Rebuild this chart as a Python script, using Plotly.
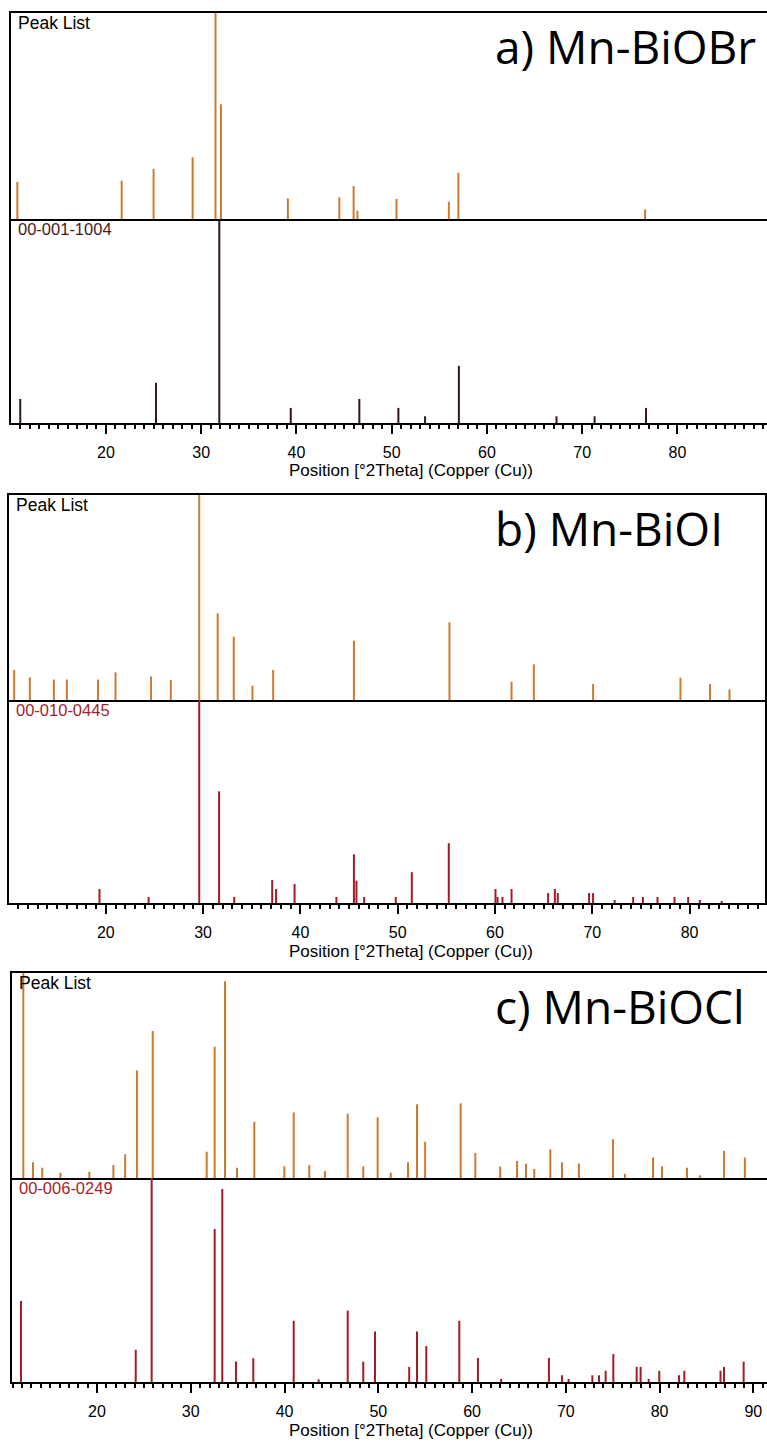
import plotly.graph_objects as go

# ---- Peak data: 2-theta positions (deg) and relative intensities (%) ----
# a) Mn-BiOBr
a_peak_pos = [10.7, 21.65, 25.0, 29.1, 31.5, 32.07, 39.1, 44.5, 46.0, 46.4, 50.5, 56.0, 57.0, 76.6]
a_peak_int = [18, 18.6, 24.3, 30, 100, 55.7, 10, 10.5, 16, 4, 9.7, 8.4, 22.5, 4.7]
a_ref_pos = [11.0, 25.25, 31.9, 39.4, 46.6, 50.7, 53.5, 57.05, 67.3, 71.3, 76.7]
a_ref_int = [11.8, 19.7, 100, 7.4, 11.8, 7.4, 3.3, 28, 3.3, 3.3, 7.4]

# b) Mn-BiOI
b_peak_pos = [10.58, 12.19, 14.66, 16.0, 19.2, 21.0, 24.65, 26.68, 29.6, 31.5, 33.15,
              35.07, 37.2, 45.5, 55.32, 61.7, 63.99, 70.08, 79.06, 82.1, 84.1]
b_peak_int = [14.6, 11, 10, 10, 10, 13.5, 11.5, 9.8, 100, 42.3, 30.9,
              7, 14.6, 28.9, 37.9, 8.9, 17.4, 7.8, 10.9, 7.8, 5.2]
b_ref_pos = [19.35, 24.4, 29.6, 31.64, 33.2, 37.1, 37.5, 39.4, 43.7, 45.5, 45.76, 46.55,
             49.8, 51.45, 55.25, 60.05, 60.26, 60.77, 61.7, 65.46, 66.15, 66.45, 69.67,
             70.08, 72.3, 74.2, 75.2, 76.7, 78.45, 79.85, 81.05, 83.3]
b_ref_int = [6.9, 3, 100, 55, 3, 11.3, 6.9, 9.4, 3, 24, 11, 3,
             3, 15.2, 29.5, 6.9, 3, 3, 6.9, 4.9, 6.9, 4.9, 4.9,
             4.9, 1.5, 3, 3, 3, 3, 3, 1.5, 1]

# c) Mn-BiOCl
c_peak_pos = [12.14, 13.17, 14.16, 16.1, 19.18, 21.75, 23.0, 24.26, 25.94, 31.7, 32.55,
              33.65, 34.93, 36.78, 39.98, 40.98, 42.64, 44.31, 46.74, 48.4, 49.93, 51.33,
              53.17, 54.13, 55.0, 58.79, 60.35, 63.0, 64.8, 65.75, 66.64, 68.35, 69.59,
              71.4, 75.03, 76.3, 79.3, 80.26, 82.93, 84.3, 86.87, 89.1]
c_peak_int = [100, 7.7, 5, 2.6, 3, 6.3, 11.6, 52.5, 71.7, 12.8, 64,
              96, 5, 27.5, 5.7, 32, 6.3, 3.4, 31.4, 5.7, 29.6, 2.6,
              7.7, 36, 17.7, 36.4, 12.2, 5.6, 8.3, 7, 4.4, 14, 7.7,
              7, 19, 2, 10, 5.7, 5, 1.3, 13.3, 10]
c_ref_pos = [11.89, 24.13, 25.83, 32.55, 33.36, 34.82, 36.67, 40.98, 43.64, 46.74, 48.4,
             49.65, 53.3, 54.13, 55.12, 58.64, 60.63, 63.1, 68.2, 69.59, 70.3, 72.83,
             73.54, 74.25, 75.07, 77.56, 77.98, 78.84, 79.97, 82.07, 82.64, 86.5, 86.87, 88.97]
c_ref_int = [39.7, 15.8, 100, 75, 94.6, 10, 11.6, 30, 1.3, 35, 10,
             24.7, 7.4, 24.7, 17.6, 30, 11.8, 1.5, 11.8, 3.3, 1.5, 3.3,
             3.3, 5.5, 13.7, 7.4, 7.4, 1.5, 5.5, 3.3, 5.5, 5.5, 7.4, 10]

panel_titles = ["a) Mn-BiOBr", "b) Mn-BiOI", "c) Mn-BiOCl"]
ref_codes = ["00-001-1004", "00-010-0445", "00-006-0249"]
x_title = "Position [°2Theta] (Copper (Cu))"
x_ranges = [[10.03, 89.4], [10.05, 87.75], [10.88, 91.46]]

W, H = 767, 1443
PEAK_COLOR = "#CD7A30"
REF_COLORS = ["#2E1818", "#A31B27", "#A31B27"]
REF_TEXT_COLORS = ["#4A1818", "#A3242C", "#A3242C"]

# layout geometry in pixels: left, right, top, divider, bottom
panels = [
    dict(l=11, r=767, t=13, m=219, b=423, right_line=False),
    dict(l=9, r=765, t=495, m=700, b=903, right_line=True),
    dict(l=11.5, r=767, t=973, m=1178, b=1382, right_line=False),
]
peaks = [(a_peak_pos, a_peak_int), (b_peak_pos, b_peak_int), (c_peak_pos, c_peak_int)]
refs = [(a_ref_pos, a_ref_int), (b_ref_pos, b_ref_int), (c_ref_pos, c_ref_int)]


def fx(p):
    return p / W


def fy(p):
    return 1 - p / H


def sticks(pos, inten):
    xs, ys = [], []
    for p, v in zip(pos, inten):
        xs += [p, p, None]
        ys += [0, v, None]
    return xs, ys


fig = go.Figure()
layout = dict(
    width=W, height=H, margin=dict(l=0, r=0, t=0, b=0, autoexpand=False),
    paper_bgcolor="white", plot_bgcolor="white", showlegend=False,
    font=dict(family="Arial, Liberation Sans, sans-serif", color="black"),
)
annotations = []
LINE = dict(showline=True, linecolor="black", linewidth=2, showgrid=False,
            zeroline=False, automargin=False)

for i, g in enumerate(panels):
    top_n, bot_n = 2 * i + 1, 2 * i + 2
    xt = "x" if top_n == 1 else f"x{top_n}"
    yt = "y" if top_n == 1 else f"y{top_n}"
    xb, yb = f"x{bot_n}", f"y{bot_n}"
    xdom = [fx(g["l"]), fx(g["r"])]

    px, py = sticks(*peaks[i])
    fig.add_trace(go.Scatter(x=px, y=py, mode="lines", xaxis=xt, yaxis=yt,
                             line=dict(color=PEAK_COLOR, width=2), hoverinfo="skip"))
    rx, ry = sticks(*refs[i])
    fig.add_trace(go.Scatter(x=rx, y=ry, mode="lines", xaxis=xb, yaxis=yb,
                             line=dict(color=REF_COLORS[i], width=2), hoverinfo="skip"))

    key_xt = "xaxis" if top_n == 1 else f"xaxis{top_n}"
    key_yt = "yaxis" if top_n == 1 else f"yaxis{top_n}"
    layout[key_xt] = dict(domain=xdom, anchor=yt, range=x_ranges[i], mirror=True,
                          showticklabels=False, ticks="", **LINE)
    layout[key_yt] = dict(domain=[fy(g["m"]), fy(g["t"])], anchor=xt, range=[0, 100],
                          mirror=g["right_line"], showticklabels=False, ticks="", **LINE)
    layout[f"xaxis{bot_n}"] = dict(
        domain=xdom, anchor=yb, range=x_ranges[i], matches=xt,
        tick0=0, dtick=10, ticks="outside", ticklen=9, tickwidth=2, tickcolor="black",
        tickfont=dict(family="Arial, Liberation Sans, sans-serif", size=16, color="black"),
        ticklabelstandoff=5,
        minor=dict(tick0=0, dtick=1, ticks="outside", ticklen=4, tickwidth=1.5,
                   tickcolor="black"),
        **LINE)
    layout[f"yaxis{bot_n}"] = dict(domain=[fy(g["b"]), fy(g["m"])], anchor=xb,
                                   range=[0, 100], mirror=g["right_line"],
                                   showticklabels=False, ticks="", **LINE)

    annotations += [
        dict(text="Peak List", x=fx(g["l"] + 5), y=fy(g["t"] + 10), xref="paper",
             yref="paper", xanchor="left", yanchor="middle", showarrow=False,
             font=dict(size=17.5, color="black")),
        dict(text=ref_codes[i], x=fx(g["l"] + 5), y=fy(g["m"] + 10), xref="paper",
             yref="paper", xanchor="left", yanchor="middle", showarrow=False,
             font=dict(size=16.5, color=REF_TEXT_COLORS[i])),
        dict(text=panel_titles[i], x=fx(493), y=fy(g["t"] + 33), xref="paper",
             yref="paper", xanchor="left", yanchor="middle", showarrow=False,
             font=dict(family="Open Sans, Noto Sans, sans-serif", size=46, color="black")),
        dict(text=x_title, x=fx(411), y=fy(g["b"] + 48), xref="paper", yref="paper",
             xanchor="center", yanchor="middle", showarrow=False,
             font=dict(size=17, color="black")),
    ]

layout["annotations"] = annotations
fig.update_layout(**layout)
fig.write_html("out.html")
